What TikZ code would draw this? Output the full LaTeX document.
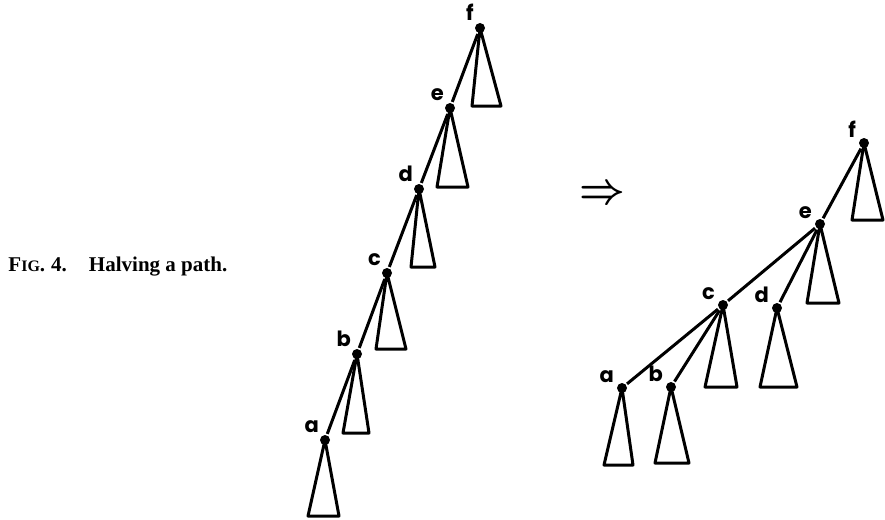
\documentclass[tikz,border=0pt]{standalone}
\usepackage{amsmath}
\usepackage{fontspec}
\setmainfont{Liberation Serif}
\newfontfamily\labelfont{Poppins}
\usetikzlibrary{positioning}

\begin{document}
\begin{tikzpicture}[x=1pt,y=-1pt,line width=3pt,line join=round,
                main node/.style={circle,fill,inner sep=0pt,minimum size=10pt},
                lbl/.style={font=\labelfont\bfseries\fontsize{21}{24}\selectfont,inner sep=1pt}]
  \useasboundingbox (0,0) rectangle (885,519);

  % the path before halving
  \node[main node, label={[lbl]125:f}] (lf) at (480,28) {};
  \node[main node, label={[lbl]125:e}] (le) at (450,108) {};
  \node[main node, label={[lbl]125:d}] (ld) at (419,189) {};
  \node[main node, label={[lbl]125:c}] (lc) at (387,273) {};
  \node[main node, label={[lbl]125:b}] (lb) at (357,354) {};
  \node[main node, label={[lbl]125:a}] (la) at (325,440) {};

  \draw (lf) -- (le) -- (ld) -- (lc) -- (lb) -- (la);

  % the tree after halving
  \node[main node, label={[lbl]150:f}] (rf) at (864,143) {};
  \node[main node, label={[lbl]150:e}] (re) at (820,224) {};
  \node[main node, label={[lbl]150:c}] (rc) at (723,305) {};
  \node[main node, label={[lbl]150:d}] (rd) at (777,308) {};
  \node[main node, label={[lbl]150:a}] (ra) at (622,388) {};
  \node[main node, label={[lbl]150:b}] (rb) at (671,387) {};

  \path[draw]
    (rf) edge (re)
    (re) edge (rc)
         edge (rd)
    (rc) edge (ra)
         edge (rb);

  % subtrees
  \foreach \n/\l/\w/\h in {lf/-8/29/78, le/-13/31/79, ld/-8/24/78,
                           lc/-11/30/76, lb/-14/26/79, la/-17/31/76,
                           rf/-12/31/77, re/-13/32/79, rc/-18/32/82,
                           rd/-17/37/79, ra/-18/29/77, rb/-16/34/76}
    \draw (\n.center) -- ++(\l,\h) -- ++(\w,0) -- cycle;

  \node[inner sep=0pt] (arrow) at (602,195)
    {\fontsize{24.88}{26}\selectfont\scalebox{1.6}[1.75]{$\boldsymbol{\Rightarrow}$}};

  \node[anchor=base west, inner sep=0pt, font=\bfseries\fontsize{21}{24}\selectfont] (caption) at (7,271)
    {F{\fontsize{16}{18}\selectfont IG}.\hspace{6pt}4.\hspace{22pt}Halving a path.};
\end{tikzpicture}
\end{document}
